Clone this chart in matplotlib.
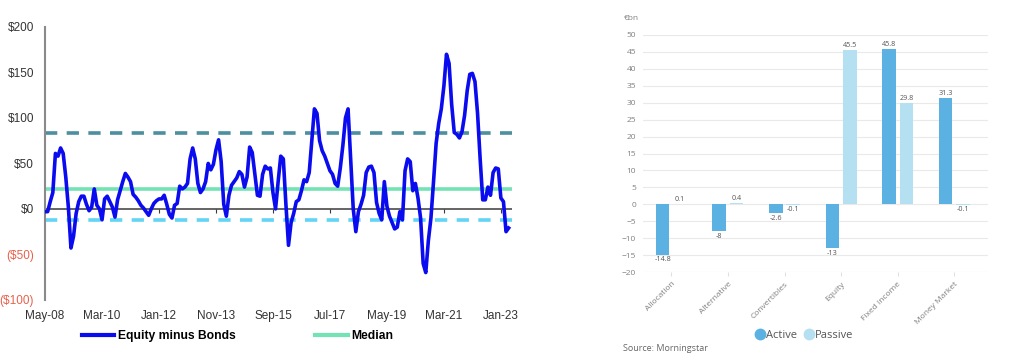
import numpy as np
import pandas as pd
import matplotlib
matplotlib.use('Agg')
import matplotlib.pyplot as plt
from matplotlib.lines import Line2D

# left panel: monthly flows, equity minus bonds ($bn), from May-08
flow_start = '2008-05-01'
flow_values = [
    -3, -3, 8, 18, 61, 58, 67, 61, 35, 2,
    -43, -30, -5, 8, 14, 14, 5, -2, 2, 22,
    4, 0, -12, 11, 14, 8, 2, -9, 10, 20,
    30, 39, 35, 30, 16, 13, 9, 4, 1, -3,
    -7, 0, 6, 9, 11, 11, 15, 5, -6, -10,
    4, 6, 25, 22, 24, 28, 55, 67, 55, 28,
    18, 22, 30, 50, 43, 49, 65, 76, 52, 5,
    -8, 15, 26, 30, 34, 41, 38, 24, 35, 68,
    62, 38, 15, 14, 38, 47, 44, 45, 18, 0,
    30, 58, 55, 5, -40, -15, -5, 8, 10, 20,
    32, 30, 40, 75, 110, 105, 75, 64, 58, 50,
    42, 38, 28, 25, 45, 70, 100, 110, 55, 0,
    -25, -3, 5, 15, 40, 46, 47, 40, 7, -5,
    -12, 30, 3, -8, -15, -22, -20, -3, -12, 42,
    55, 52, 20, 28, 12, -10, -60, -70, -35, -10,
    30, 72, 94, 110, 135, 170, 160, 115, 84, 82,
    78, 85, 103, 130, 148, 149, 140, 105, 55, 10,
    10, 24, 15, 40, 45, 44, 12, 8, -25, -21,
]
median_value = 22
upper_band = 83
lower_band = -12
flow_ticks = ['May-08', 'Mar-10', 'Jan-12', 'Nov-13', 'Sep-15',
              'Jul-17', 'May-19', 'Mar-21', 'Jan-23']
y_ticks = [-100, -50, 0, 50, 100, 150, 200]
y_labels = ['($100)', '($50)', '$0', '$50', '$100', '$150', '$200']

# right panel: European fund flows (EUR bn)
categories = ['Allocation', 'Alternative', 'Convertibles', 'Equity',
              'Fixed Income', 'Money Market']
active = [-14.8, -8, -2.6, -13, 45.8, 31.3]
passive = [0.1, 0.4, -0.1, 45.5, 29.8, -0.1]

fig = plt.figure(figsize=(10.24, 3.6), dpi=100)

# ---------------- left chart ----------------
ax = fig.add_axes([0.044, 0.167, 0.456, 0.758])
dates = pd.date_range(flow_start, periods=len(flow_values), freq='MS')
x = np.arange(len(flow_values))

# spine moved first, since set_position rebuilds the ticks
ax.spines['bottom'].set_position(('data', 0))
ax.spines['bottom'].set_visible(False)
for s in ['top', 'right']:
    ax.spines[s].set_visible(False)
ax.spines['left'].set_color('#8a8a8a')
ax.spines['left'].set_linewidth(1.5)

ax.axhline(0, color='#3a3a3a', lw=1.1, zorder=1)
ax.axhline(median_value, color='#74e3b4', lw=2.6, zorder=2)
l1 = ax.axhline(upper_band, color='#4c8f9e', lw=2.6, zorder=2)
l1.set_dashes((3.4, 2.6))
l2 = ax.axhline(lower_band, color='#62d4f4', lw=2.6, zorder=2)
l2.set_dashes((3.4, 2.6))
ax.plot(x, flow_values, color='#0b0bef', lw=2.6, zorder=3)

ax.set_xlim(0, 180.3)
ax.set_ylim(-100, 200)
ax.set_yticks(y_ticks)
ax.set_yticklabels(y_labels, fontsize=8.5, family='Liberation Sans')
for lab, v in zip(ax.get_yticklabels(), y_ticks):
    lab.set_color('#e8604c' if v < 0 else '#333333')
ax.tick_params(axis='y', length=0, pad=8)

ax.set_xticks(np.arange(0, 177, 22))
ax.set_xticklabels(flow_ticks, fontsize=8.5, family='Liberation Sans', color='#333333')
ax.tick_params(axis='x', length=3, width=0.8, color='#3a3a3a', pad=70)

handles = [Line2D([], [], color='#0b0bef', lw=3, label='Equity minus Bonds'),
           Line2D([], [], color='#74e3b4', lw=3, label='Median')]
fig.legend(handles=handles, loc='center', bbox_to_anchor=(0.232, 0.067), ncol=2,
           frameon=False, handlelength=2.7, columnspacing=6.6, handletextpad=0.3,
           prop={'family': 'Liberation Sans', 'weight': 'bold', 'size': 8.7})

# ---------------- right chart ----------------
bx = fig.add_axes([0.628, 0.244, 0.337, 0.659])
pos = np.arange(len(categories))
w = 0.24
off = 0.155
fnt = 'Open Sans'
bx.bar(pos - off, active, width=w, color='#5cb1e3', zorder=2)
bx.bar(pos + off, passive, width=w, color='#b5e0f1', zorder=2)

for p, v in zip(pos, active):
    bx.text(p - off, v + (0.4 if v >= 0 else -0.5), f'{v:g}', ha='center',
            va='bottom' if v >= 0 else 'top', fontsize=5.2, color='#555555', family=fnt)
for p, v in zip(pos, passive):
    bx.text(p + off, v + (0.4 if v >= 0 else -0.5), f'{v:g}', ha='center',
            va='bottom' if v >= 0 else 'top', fontsize=5.2, color='#555555', family=fnt)

bx.set_xlim(-0.5, 5.6)
bx.set_ylim(-20, 50)
bx.set_yticks(np.arange(-20, 51, 5))
bx.yaxis.grid(True, color='#e9e9e9', lw=0.8, zorder=0)
bx.set_axisbelow(True)
for s in bx.spines.values():
    s.set_visible(False)
bx.tick_params(axis='y', length=0, labelsize=6, labelcolor='#808080', pad=5)
for lab in bx.get_yticklabels():
    lab.set_family(fnt)
bx.set_xticks(pos)
bx.set_xticklabels(categories, rotation=45, ha='right', rotation_mode='anchor',
                   fontsize=6, color='#808080', family=fnt)
bx.tick_params(axis='x', length=3, color='#e0e0e0', pad=3)

fig.text(0.609, 0.95, '€bn', fontsize=6, color='#808080', family=fnt, va='center')
fig.text(0.608, 0.033, 'Source: Morningstar', fontsize=6.5, color='#666666',
         family=fnt, va='center')

h2 = [Line2D([], [], marker='o', ls='', color='#5cb1e3', markersize=7.5, label='Active'),
      Line2D([], [], marker='o', ls='', color='#b5e0f1', markersize=7.5, label='Passive')]
fig.legend(handles=h2, loc='center', bbox_to_anchor=(0.785, 0.068), ncol=2,
           frameon=False, handletextpad=0.05, columnspacing=0.6, handlelength=1,
           prop={'family': fnt, 'size': 8})
for t in fig.legends[-1].get_texts():
    t.set_color('#555555')

fig.savefig('out.png', dpi=100)
